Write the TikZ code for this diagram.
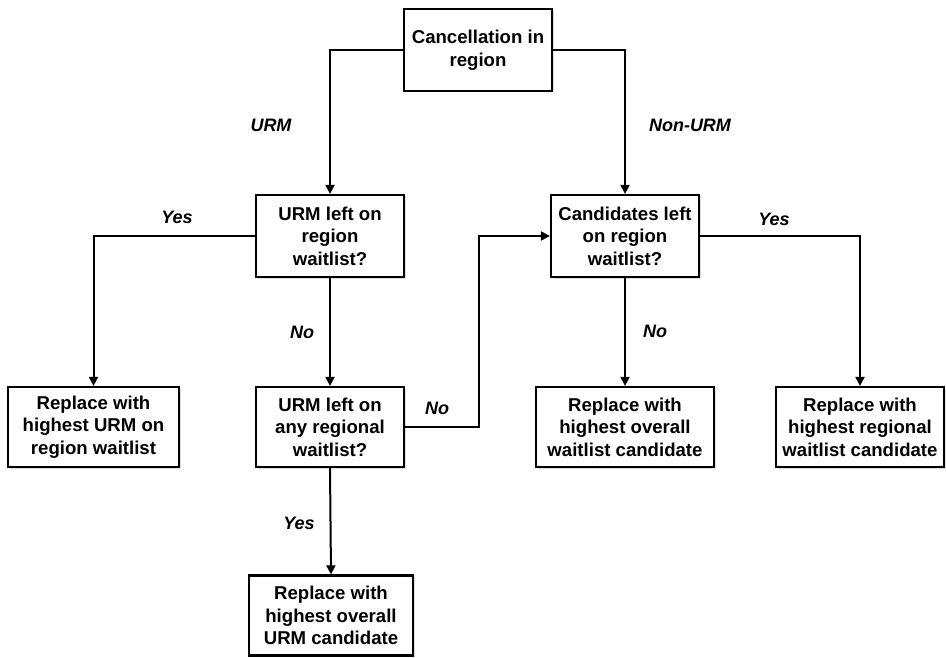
\documentclass[tikz,border=0pt]{standalone}
\usepackage{fontspec}
\setmainfont{Liberation Sans}
\usetikzlibrary{arrows.meta,shadows}
\begin{document}
\begin{tikzpicture}[x=1pt,y=-1pt,
  box/.style={draw=black, line width=2.2pt, fill=white, align=center, inner sep=0pt,
    font=\fontsize{18.6}{22.6}\selectfont\bfseries,
    execute at begin node={\rule{0pt}{19.5pt}},
    drop shadow={opacity=0.25, shadow xshift=1.5pt, shadow yshift=-1.5pt}},
  lbl/.style={font=\fontsize{18}{22}\selectfont\bfseries\itshape, inner sep=0pt},
  conn/.style={line width=2pt, -{Triangle[length=9pt,width=9pt]}}]
\useasboundingbox (0,0) rectangle (946,658);
\node[box, minimum width=148pt, minimum height=82pt] (top) at (478,50) {Cancellation in\\region};
\node[box, minimum width=148pt, minimum height=82pt] (urm) at (330,236) {URM left on\\region\\waitlist?};
\node[box, minimum width=148pt, minimum height=82pt] (cand) at (625,236) {Candidates left\\on region\\waitlist?};
\node[box, minimum width=171pt, minimum height=80pt] (repU) at (93.5,427) {Replace with\\highest URM on\\region waitlist};
\node[box, minimum width=148pt, minimum height=80pt] (any) at (330,427) {URM left on\\any regional\\waitlist?};
\node[box, minimum width=178pt, minimum height=80pt] (over) at (625,427) {Replace with\\highest overall\\waitlist candidate};
\node[box, minimum width=168pt, minimum height=80pt] (reg) at (860,427) {Replace with\\highest regional\\waitlist candidate};
\node[box, minimum width=164pt, minimum height=80pt] (bot) at (331,615.5) {Replace with\\highest overall\\URM candidate};

\draw[conn] (top.west) -| (urm.north);
\draw[conn] (top.east) -| (cand.north);
\draw[conn] (urm.west) -| (repU.north);
\draw[conn] (urm.south) -- (any.north);
\draw[conn] (any.east) -- ++(74,0) |- (cand.west);
\draw[conn] (cand.east) -| (reg.north);
\draw[conn] (cand.south) -- (over.north);
\draw[conn] (any.south) -- (bot.north);

\node[lbl] (l1) at (271,125) {URM};
\node[lbl] (l2) at (690,125) {Non-URM};
\node[lbl] (l3) at (177,217) {Yes};
\node[lbl] (l4) at (302,332) {No};
\node[lbl] (l5) at (437,408) {No};
\node[lbl] (l6) at (774,219) {Yes};
\node[lbl] (l7) at (655,331) {No};
\node[lbl] (l8) at (299,523) {Yes};
\end{tikzpicture}
\end{document}
